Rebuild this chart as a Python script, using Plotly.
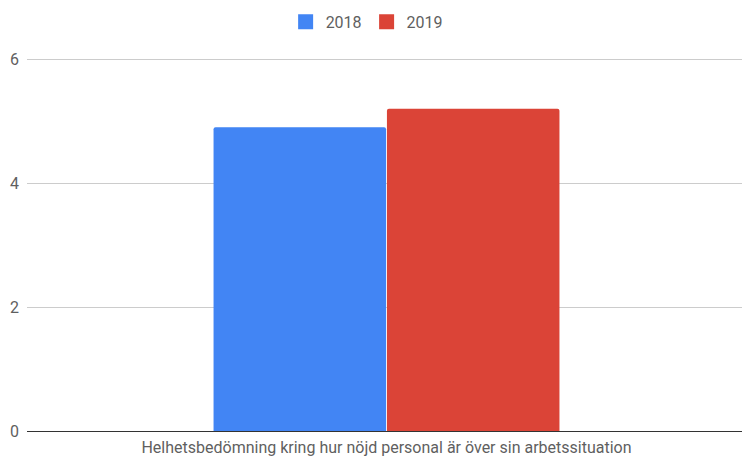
import plotly.graph_objects as go

categories = ["Helhetsbedömning kring hur nöjd personal är över sin arbetssituation"]
series_names = ["2018", "2019"]
values_2018 = [4.9]
values_2019 = [5.2]
colors = ["#4285f4", "#db4437"]
y_ticks = [0, 2, 4, 6]

fig = go.Figure()
for name, vals, col in zip(series_names, [values_2018, values_2019], colors):
    fig.add_trace(go.Bar(
        x=categories, y=vals, name=name, showlegend=False,
        marker=dict(color=col, line=dict(width=0), cornerradius=2),
    ))
# square legend swatches
for name, col in zip(series_names, colors):
    fig.add_trace(go.Scatter(
        x=[None], y=[None], mode="markers", name=name,
        marker=dict(symbol="square", size=15, color=col),
    ))

font_family = "Roboto, Arial, sans-serif"
fig.update_layout(
    width=742, height=457,
    margin=dict(l=27, r=0, t=56, b=26),
    paper_bgcolor="white", plot_bgcolor="white",
    barmode="group", bargap=0.515, bargroupgap=0.005,
    font=dict(family=font_family, size=16, color="#5f5f5f"),
    showlegend=True,
    legend=dict(orientation="h", x=0.475, xanchor="center", y=0.952, yanchor="middle",
                yref="container", font=dict(size=16, color="#5f5f5f"),
                itemsizing="trace", traceorder="normal"),
    xaxis=dict(type="category", range=[-0.5028, 0.4972], showgrid=False, showline=False,
               ticks="", tickfont=dict(size=16, color="#5f5f5f"), ticklabelstandoff=5),
    yaxis=dict(range=[0, 6.05], tickvals=y_ticks, showgrid=True, gridcolor="#cccccc",
               gridwidth=1, zeroline=True, zerolinecolor="#333333", zerolinewidth=1,
               showline=False, ticks="", tickfont=dict(size=16, color="#5f5f5f"),
               ticklabelstandoff=7),
)
fig.write_html("out.html")
